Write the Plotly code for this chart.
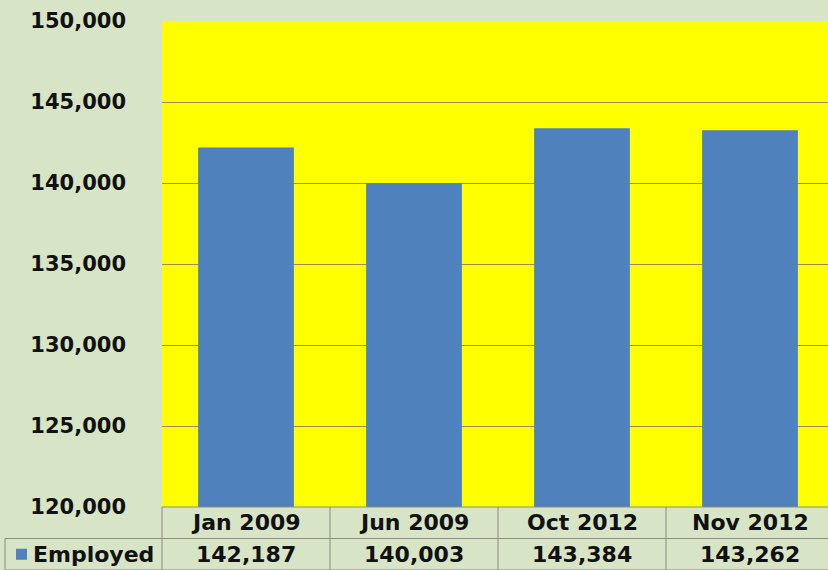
import plotly.graph_objects as go

# Employment levels (thousands) by month
months = ["Jan 2009", "Jun 2009", "Oct 2012", "Nov 2012"]
employed = [142187, 140003, 143384, 143262]
series_name = "Employed"
y_ticks = [120000, 125000, 130000, 135000, 140000, 145000, 150000]

BG = "#d8e4c6"
PLOT_BG = "#ffff00"
BAR = "#4f81bd"
GRID = "#9c8a58"
TABLE_LINE = "#8c8c80"
FONT = "DejaVu Sans"
TXT = "#111111"

W, H = 828, 570
ML, MT, MB = 162, 21, 63
cat_w = 168.0
plot_w = W - ML
x_hi = -0.5 + plot_w / cat_w

fig = go.Figure()
fig.add_trace(go.Bar(
    x=list(range(len(months))), y=employed, name=series_name,
    marker=dict(color=BAR, line=dict(width=0)), width=0.57,
    showlegend=False,
))

plot_h = H - MT - MB
row_h = MB / 2.0
# paper y for table rows (paper 0 = plot bottom)
row1_mid = -(row_h / 2) / plot_h
row_split = -row_h / plot_h
row2_mid = -(row_h * 1.5) / plot_h
bottom = -MB / plot_h

shapes = []
# horizontal table lines
shapes.append(dict(type="line", xref="paper", yref="paper", x0=0, x1=1,
                   y0=0, y1=0, line=dict(color=TABLE_LINE, width=1)))
shapes.append(dict(type="line", xref="paper", yref="paper", x0=-(ML - 5) / plot_w, x1=1,
                   y0=row_split, y1=row_split, line=dict(color=TABLE_LINE, width=1)))
shapes.append(dict(type="line", xref="paper", yref="paper", x0=-(ML - 5) / plot_w, x1=1,
                   y0=bottom, y1=bottom, line=dict(color=TABLE_LINE, width=1)))
# vertical table lines
shapes.append(dict(type="line", xref="paper", yref="paper", x0=0, x1=0,
                   y0=0, y1=bottom, line=dict(color=TABLE_LINE, width=1)))
shapes.append(dict(type="line", xref="paper", yref="paper", x0=-(ML - 5) / plot_w,
                   x1=-(ML - 5) / plot_w, y0=row_split, y1=bottom,
                   line=dict(color=TABLE_LINE, width=1)))
for i in range(len(months)):
    shapes.append(dict(type="line", xref="x", yref="paper", x0=i + 0.5, x1=i + 0.5,
                       y0=0, y1=bottom, line=dict(color=TABLE_LINE, width=1)))
# legend key square
key_x0 = -(ML - 16) / plot_w
key_x1 = -(ML - 27) / plot_w
shapes.append(dict(type="rect", xref="paper", yref="paper", x0=key_x0, x1=key_x1,
                   y0=row2_mid - 5.5 / plot_h, y1=row2_mid + 5.5 / plot_h,
                   fillcolor=BAR, line=dict(width=0)))

annotations = []
for i, (m, v) in enumerate(zip(months, employed)):
    annotations.append(dict(x=i, y=row1_mid, xref="x", yref="paper", text=m,
                            showarrow=False, xanchor="center", yanchor="middle",
                            font=dict(family=FONT, size=22, color=TXT, weight="bold")))
    annotations.append(dict(x=i, y=row2_mid, xref="x", yref="paper", text=f"{v:,}",
                            showarrow=False, xanchor="center", yanchor="middle",
                            font=dict(family=FONT, size=22, color=TXT, weight="bold")))
annotations.append(dict(x=-(ML - 31) / plot_w, y=row2_mid, xref="paper", yref="paper",
                        text=series_name, showarrow=False, xanchor="left", yanchor="middle",
                        font=dict(family=FONT, size=22, color=TXT, weight="bold")))

fig.update_layout(
    width=W, height=H,
    margin=dict(l=ML, r=0, t=MT, b=MB, pad=0),
    paper_bgcolor=BG, plot_bgcolor=PLOT_BG,
    bargap=0.43,
    xaxis=dict(range=[-0.5, x_hi], showticklabels=False, showgrid=False,
               zeroline=False, showline=False, fixedrange=True),
    yaxis=dict(range=[120000, 150000], tickvals=y_ticks,
               ticktext=[f"{t:,}" for t in y_ticks],
               showgrid=True, gridcolor=GRID, gridwidth=1, zeroline=False,
               showline=False, ticks="", ticklabelstandoff=35,
               tickfont=dict(family=FONT, size=21, color=TXT, weight="bold")),
    shapes=shapes, annotations=annotations,
    showlegend=False,
)

fig.write_html("out.html")
